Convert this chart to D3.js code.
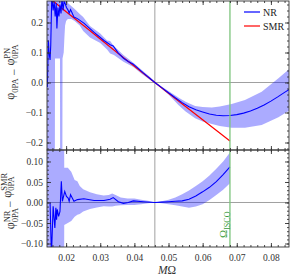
<!DOCTYPE html>
<html>
<head>
<meta charset="utf-8">
<script src="https://cdn.jsdelivr.net/npm/d3@7"></script>
<style>
  body { margin: 0; background: #fff; }
  svg { display: block; }
  text { font-family: "Liberation Serif", "DejaVu Serif", serif; }
</style>
</head>
<body>
<div id="chart"></div>
<script>
// SMR (top panel)
const xSmr = [0.0150, 0.020, 0.025, 0.030, 0.035, 0.040, 0.046, 0.050, 0.055, 0.060, 0.065, 0.068];
const smr  = [0.283, 0.236, 0.191, 0.145, 0.099, 0.054, 0.000, -0.036, -0.080, -0.124, -0.168, -0.195];

// NR (top panel)
const xNr = [0.0145,0.0148,0.0150,0.0153,0.0155,0.0158,0.0162,0.0165,0.0168,0.0171,0.0173,0.0176,0.0179,0.0182,0.0185,0.0188,0.0191,0.0194,
  0.0196,0.0201,0.0206,0.0209,0.0213,0.0218,0.0223,0.0233,0.0252,0.0282,0.0311,0.0329,0.0338,0.0353,0.0368,0.0382,0.0397,0.0426,
  0.046,0.048,0.050,0.052,0.054,0.056,0.058,0.060,0.062,0.064,0.066,0.068,0.070,0.072,0.074,0.076,0.078,0.080,0.082,0.084,0.0856];
const nr = [-0.015,0.140,0.100,0.075,0.125,0.290,0.240,0.270,0.220,0.265,0.180,0.250,0.220,0.260,0.230,0.280,0.240,0.270,
  0.267,0.250,0.241,0.231,0.243,0.231,0.218,0.213,0.198,0.167,0.140,0.126,0.122,0.098,0.081,0.070,0.061,0.032,
  0.000,-0.017,-0.034,-0.051,-0.067,-0.081,-0.091,-0.098,-0.105,-0.109,-0.111,-0.110,-0.107,-0.102,-0.095,-0.086,-0.075,-0.062,-0.048,-0.033,-0.022];

// NR error band (top panel)
const xBandTop = [0.0144,0.0167,0.01675,0.0182,0.01825,0.0189,0.01895,0.0193,0.0195,
  0.0197,0.0200,0.0205,0.0215,0.0225,0.0240,0.0250,0.0270,0.0300,0.0320,
  0.0329,0.0340,0.0368,0.0397,0.0420,0.0446,0.0460,0.0480,0.0500,0.0529,
  0.0550,0.0578,0.0600,0.0627,0.0650,0.0685,0.0724,0.0773,0.0822,0.0856];
const bandTopHi = [0.35,0.35,0.35,0.35,0.35,0.35,0.35,0.35,0.35,
  0.30,0.28,0.265,0.255,0.245,0.228,0.218,0.188,0.163,0.140,
  0.138,0.122,0.092,0.066,0.043,0.018,0.002,-0.013,-0.028,-0.050,
  -0.064,-0.078,-0.082,-0.083,-0.080,-0.072,-0.058,-0.031,0.014,0.047];
const bandTopLo = [-0.3,-0.3,0.08,0.08,-0.3,-0.3,0.08,0.10,0.15,
  0.19,0.205,0.212,0.212,0.205,0.190,0.172,0.150,0.132,0.110,
  0.097,0.092,0.069,0.052,0.030,0.008,-0.002,-0.021,-0.040,-0.075,
  -0.097,-0.119,-0.130,-0.138,-0.145,-0.151,-0.151,-0.142,-0.116,-0.092];

// NR - SMR (bottom panel)
const xDiff = [0.0153,0.0157,0.0162,0.0167,0.0170,0.0172,0.0174,0.0178,0.0182,0.0186,
  0.0189,0.0196,0.0201,0.0206,0.0209,0.0213,0.0218,0.0223,0.0233,0.0252,
  0.0282,0.0311,0.0329,0.0338,0.0353,0.0368,0.0382,0.0397,0.0426,0.046,
  0.048,0.050,0.052,0.054,0.056,0.058,0.060,0.062,0.064,0.066,0.068];
const diff = [0.000,-0.130,-0.009,-0.062,-0.013,-0.042,-0.017,-0.034,-0.022,0.052,
  0.003,0.027,0.015,0.011,0.003,0.019,0.011,0.003,0.007,0.009,
  0.005,0.005,0.008,0.012,0.002,-0.002,0.000,0.004,0.002,0.000,
  0.001,0.002,0.003,0.004,0.008,0.016,0.026,0.037,0.051,0.068,0.087];

const xBandBot = [0.0144,0.0194,0.01945,0.0205,0.0215,0.0225,0.0233,0.0240,0.0250,0.0270,
  0.0290,0.0310,0.0325,0.0335,0.0345,0.0360,0.0380,0.0400,0.0420,0.0440,
  0.0460,0.0480,0.0500,0.0520,0.0540,0.0560,0.0580,0.0600,0.0620,0.0640,0.0660,0.0680];
const bandBotHi = [0.2,0.2,0.085,0.085,0.075,0.055,0.052,0.040,0.032,0.025,
  0.020,0.017,0.018,0.022,0.018,0.012,0.010,0.010,0.007,0.004,
  0.000,0.003,0.007,0.012,0.020,0.029,0.040,0.052,0.066,0.082,0.100,0.122];
const bandBotLo = [-0.2,-0.2,-0.055,-0.050,-0.045,-0.035,-0.030,-0.028,-0.022,-0.016,
  -0.012,-0.009,-0.010,-0.010,-0.008,-0.007,-0.006,-0.006,-0.004,-0.002,
  0.000,-0.002,-0.004,-0.007,-0.010,-0.013,-0.010,-0.004,0.006,0.018,0.031,0.047];

const xMajor = [0.02, 0.03, 0.04, 0.05, 0.06, 0.07, 0.08];
const xMinor = d3.range(16, 86, 2).map(v => v / 1000);
const yTopMajor = [-0.2, -0.1, 0, 0.1, 0.2];
const yTopMinor = d3.range(-22, 28, 2).map(v => v / 100);
const yBotMajor = [-0.10, -0.05, 0, 0.05, 0.10];
const yBotMinor = d3.range(-10, 13, 1).map(v => v / 100);
const xGrid = 0.046;
const omegaIsco = 0.068;

const W = 290, H = 277;
const L = 47, R = 289;
const topPanel = { y0: 1, y1: 150 };
const botPanel = { y0: 150, y1: 247 };

const svg = d3.select('#chart').append('svg')
  .attr('width', W).attr('height', H);

const x = d3.scaleLinear().domain([0.0144, 0.0853]).range([L, R]);
const yTop = d3.scaleLinear().domain([-0.225, 0.2717]).range([topPanel.y1, topPanel.y0]);
const yBot = d3.scaleLinear().domain([-0.1085, 0.128]).range([botPanel.y1, botPanel.y0]);

const defs = svg.append('defs');
function clip(id, p) {
  defs.append('clipPath').attr('id', id).append('rect')
    .attr('x', L).attr('y', p.y0).attr('width', R - L).attr('height', p.y1 - p.y0);
}
clip('clipTop', topPanel);
clip('clipBot', botPanel);

function drawPanel(id, p, y, opts) {
  const g = svg.append('g').attr('clip-path', `url(#${id})`);
  // grid
  g.append('line').attr('x1', x(xGrid)).attr('x2', x(xGrid)).attr('y1', p.y0).attr('y2', p.y1)
    .attr('stroke', '#a0a0a0').attr('stroke-width', 1);
  g.append('line').attr('x1', L).attr('x2', R).attr('y1', y(0)).attr('y2', y(0))
    .attr('stroke', '#a0a0a0').attr('stroke-width', 1);

  const area = d3.area().x(d => x(d[0])).y0(d => y(d[2])).y1(d => y(d[1]));
  g.append('path').datum(d3.zip(opts.bx, opts.bhi, opts.blo))
    .attr('d', area).attr('fill', '#0000ff').attr('fill-opacity', 0.33);

  const line = d3.line().x(d => x(d[0])).y(d => y(d[1]));
  if (opts.smr) {
    g.append('path').datum(d3.zip(xSmr, smr)).attr('d', line)
      .attr('fill', 'none').attr('stroke', '#ff0000').attr('stroke-width', 1.2);
  }
  g.append('path').datum(d3.zip(opts.nx, opts.ny)).attr('d', line)
    .attr('fill', 'none').attr('stroke', '#0000ff').attr('stroke-width', 1.1);

  g.append('line').attr('x1', x(omegaIsco)).attr('x2', x(omegaIsco)).attr('y1', p.y0).attr('y2', p.y1)
    .attr('stroke', '#7cc47c').attr('stroke-width', 1.3);
}

drawPanel('clipTop', topPanel, yTop, { bx: xBandTop, bhi: bandTopHi, blo: bandTopLo, nx: xNr, ny: nr, smr: true });
drawPanel('clipBot', botPanel, yBot, { bx: xBandBot, bhi: bandBotHi, blo: bandBotLo, nx: xDiff, ny: diff, smr: false });

// frame + ticks (inward, Mathematica style)
function styleAxis(g) {
  g.select('.domain').remove();
  g.selectAll('line').attr('stroke', '#333').attr('stroke-width', 0.9);
  g.selectAll('text').attr('fill', '#333').style('font-size', '9.5px')
    .style('font-family', '"Liberation Serif", serif');
}
function frame(p, y, major, minor, fmt, xLabels) {
  const add = (axis, tx, ty) => svg.append('g').attr('transform', `translate(${tx},${ty})`).call(axis).call(styleAxis);
  add(d3.axisLeft(y).tickValues(major).tickSize(-4).tickPadding(4).tickFormat(fmt), L, 0);
  add(d3.axisLeft(y).tickValues(minor).tickSize(-2).tickFormat(''), L, 0);
  add(d3.axisRight(y).tickValues(major).tickSize(-4).tickFormat(''), R, 0);
  add(d3.axisRight(y).tickValues(minor).tickSize(-2).tickFormat(''), R, 0);
  add(d3.axisTop(x).tickValues(xMajor).tickSize(-4).tickFormat(''), 0, p.y0);
  add(d3.axisTop(x).tickValues(xMinor).tickSize(-2).tickFormat(''), 0, p.y0);
  add(d3.axisBottom(x).tickValues(xMajor).tickSize(-4).tickPadding(7)
    .tickFormat(xLabels ? d3.format('.2f') : ''), 0, p.y1);
  add(d3.axisBottom(x).tickValues(xMinor).tickSize(-2).tickFormat(''), 0, p.y1);
  svg.append('rect').attr('x', L).attr('y', p.y0).attr('width', R - L).attr('height', p.y1 - p.y0)
    .attr('fill', 'none').attr('stroke', '#333').attr('stroke-width', 0.9);
}
frame(topPanel, yTop, yTopMajor, yTopMinor, d3.format('.1f'), false);
frame(botPanel, yBot, yBotMajor, yBotMinor, d3.format('.2f'), true);

// legend
const legend = [{ name: 'NR', color: '#0000ff', y: 12 }, { name: 'SMR', color: '#ff0000', y: 26 }];
legend.forEach(d => {
  svg.append('line').attr('x1', 244).attr('x2', 260).attr('y1', d.y).attr('y2', d.y)
    .attr('stroke', d.color).attr('stroke-width', 1.2);
  svg.append('text').attr('x', 263).attr('y', d.y + 3.5).attr('font-size', 10).attr('fill', '#222').text(d.name);
});

// y titles with stacked sub/superscripts
function yTitle(cx, cy, sup1, sup2) {
  const t = svg.append('text').attr('transform', `translate(${cx},${cy}) rotate(-90)`)
    .attr('text-anchor', 'middle').attr('font-size', 12).attr('fill', '#333');
  function phi(sup, first) {
    t.append('tspan').attr('dy', first ? 0 : -3.5).text('φ');
    const sub = t.append('tspan').attr('font-size', 8.5).attr('dy', 3.5).text('0PA');
    if (sup) {
      const w = sub.node().getComputedTextLength();
      t.append('tspan').attr('font-size', 8.5).attr('dx', -w).attr('dy', -7.5).text(sup);
      return 4;
    }
    return 0;
  }
  const r = phi(sup1, true);
  t.append('tspan').attr('dy', r).text(' − ');
  phi(sup2, false);
}
yTitle(14, 72, null, 'PN');
yTitle(14, 201, 'NR', 'SMR');

// x title
const xt = svg.append('text').attr('x', 167).attr('y', 274).attr('text-anchor', 'middle')
  .attr('font-size', 11.5).attr('fill', '#333');
xt.append('tspan').attr('font-style', 'italic').text('M');
xt.append('tspan').text('Ω');

// ISCO label
const it = svg.append('text').attr('transform', `translate(227,238) rotate(-90)`)
  .attr('font-size', 11).attr('fill', '#3a9a3a');
it.append('tspan').text('Ω');
it.append('tspan').attr('font-size', 8).attr('dy', 3).text('ISCO');
</script>
</body>
</html>
